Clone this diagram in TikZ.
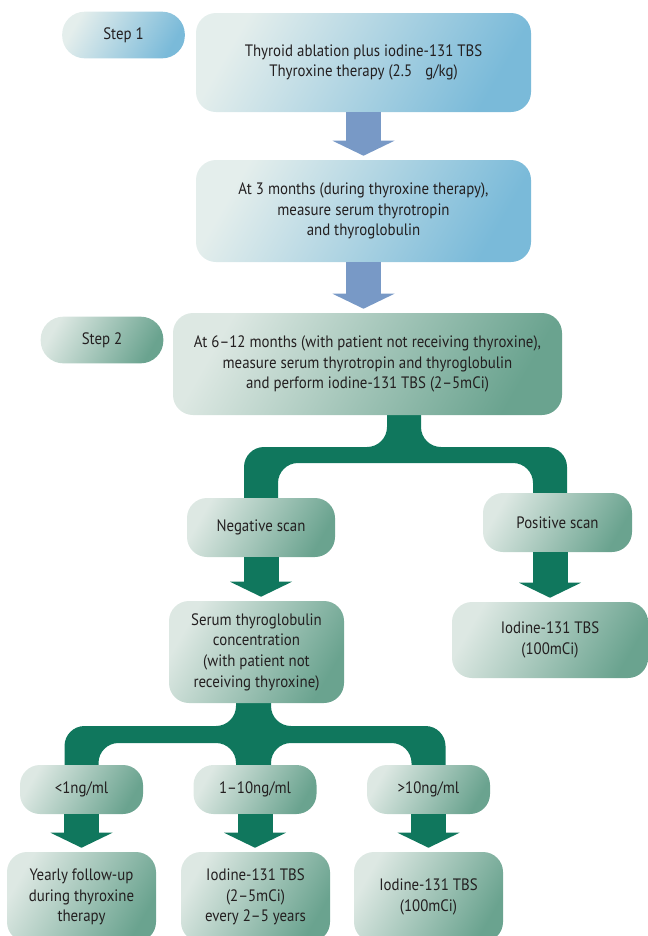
\documentclass[tikz,border=0pt]{standalone}
\usepackage{fontspec}
\setmainfont{PT Sans}[FakeStretch=0.9]
\usetikzlibrary{arrows.meta,calc,backgrounds}

\definecolor{paleblue}{HTML}{E4EEEC}
\definecolor{boxblue}{HTML}{7ABAD9}
\definecolor{palegreen}{HTML}{DDE8E3}
\definecolor{boxgreen}{HTML}{6AA38F}
\definecolor{treegreen}{HTML}{10775D}
\definecolor{arrowblue}{HTML}{7899C6}
\definecolor{ink}{HTML}{231F20}

\begin{document}
\begin{tikzpicture}[x=0.75pt,y=-0.75pt,font=\fontsize{12.4}{15.5}\selectfont,text=ink,
    blue box/.style={rectangle,rounded corners=15pt,inner sep=0pt,align=center,
                     left color=paleblue,right color=boxblue,shading angle=60},
    green box/.style={blue box,left color=palegreen,right color=boxgreen,shading angle=60},
    step box/.style={rounded corners=17pt,minimum width=92pt,minimum height=35pt},
    small box/.style={green box,minimum width=92.25pt,minimum height=36.75pt},
    end box/.style={green box,minimum width=111.75pt,minimum height=67.5pt},
    blue arrow/.style={draw=arrowblue,line width=26.25pt,shorten >=3pt,
                       -{Triangle[width=46.5pt,length=11.25pt,line width=0pt]}},
    green arrow/.style={blue arrow,draw=treegreen},
    tree/.style={fill=treegreen,rounded corners=15pt}]

  \useasboundingbox (0,0) rectangle (647,936);

  \node[blue box,step box] (step1) at (123.5,35) {Step 1};
  \node[blue box,minimum width=251.25pt,minimum height=74.25pt] (abl) at (363.5,62.5)
    {Thyroid ablation plus iodine-131 TBS\\Thyroxine therapy (2.5\hspace{0.8em}g/kg)};
  \node[blue box,minimum width=251.25pt,minimum height=76.5pt] (3m) at (363.5,211)
    {At 3 months (during thyroxine therapy),\\measure serum thyrotropin\\and thyroglobulin};
  \node[green box,step box] (step2) at (102,340) {Step 2};
  \node[green box,minimum width=291.75pt,minimum height=76.5pt] (6m) at (367.5,364)
    {At 6--12 months (with patient not receiving thyroxine),\\measure serum thyrotropin and thyroglobulin\\and perform iodine-131 TBS (2--5mCi)};
  \node[green box,minimum width=111pt,minimum height=44.25pt] (neg) at (261,527.5) {Negative scan};
  \node[green box,minimum width=111.75pt,minimum height=44.25pt] (pos) at (557.5,522.5) {Positive scan};
  \node[green box,minimum width=131.25pt,minimum height=76.5pt] (serum) at (256.5,652)
    {Serum thyroglobulin\\concentration\\(with patient not\\receiving thyroxine)};
  \node[green box,minimum width=147pt,minimum height=57pt] (iod) at (550,640) {Iodine-131 TBS\\(100mCi)};
  \node[small box] (lt) at (81.5,789.5) {<1ng/ml};
  \node[small box] (mid) at (255,789.5) {1--10ng/ml};
  \node[small box] (gt) at (428.5,789.5) {>10ng/ml};
  \node[end box] (yfu) at (81.5,897) {Yearly follow-up\\during thyroxine\\therapy};
  \node[end box] (i2) at (255.5,897) {Iodine-131 TBS\\(2--5mCi)\\every 2--5 years};
  \node[end box] (i3) at (428.5,897) {Iodine-131 TBS\\(100mCi)};

  \coordinate (f1) at (404,455);
  \coordinate (f2) at (253.5,734.5);

  \begin{scope}[on background layer]
    \fill[tree] ($(f1)+(-17,-75)$) -- ++(0,67) -| ($(neg.center)+(-17,0)$) -- ++(34,0)
      |- ($(f1 -| iod)+(-17,8)$) -- ($(pos.center -| iod)+(-17,0)$) -- ++(34,0)
      |- ($(f1)+(17,-8)$) -- ++(0,-67) -- cycle;
    \fill[tree] ($(f2)+(-17.5,-60)$) -- ++(0,51.5) -| ($(lt.center)+(-17,0)$) -- ++(34,0)
      |- ($(f2)+(-17.5,8.5)$) -- ($(mid.center -| f2)+(-17.5,0)$) -- ++(35,0)
      |- ($(f2 -| gt)+(-17,8.5)$) -- ($(gt.center)+(-17,0)$) -- ++(34,0)
      |- ($(f2)+(17.5,-8.5)$) -- ++(0,-51.5) -- cycle;
  \end{scope}

  \path (abl.south) edge[blue arrow] (abl.south |- 3m.north)
        (3m.south) edge[blue arrow] (3m.south |- 6m.north)
        (neg.south) edge[green arrow] (neg.south |- serum.north)
        (iod.north |- pos.south) edge[green arrow] (iod.north)
        (lt.south) edge[green arrow] (yfu.north)
        (mid.south) edge[green arrow] (mid.south |- i2.north)
        (gt.south) edge[green arrow] (i3.north);
\end{tikzpicture}
\end{document}
